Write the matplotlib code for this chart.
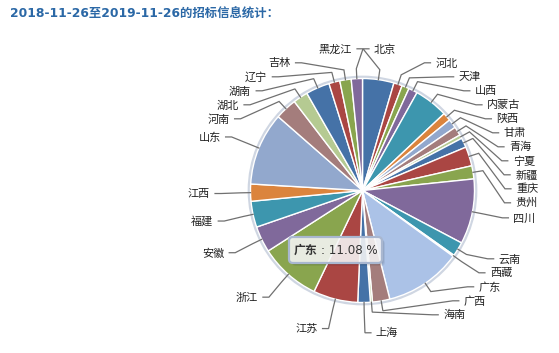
import numpy as np
import matplotlib
matplotlib.use('Agg')
import matplotlib.pyplot as plt
from matplotlib.patches import FancyBboxPatch, Circle
from matplotlib.colors import to_rgb

# ---------------- data ----------------
provinces = ['北京', '河北', '天津', '山西', '内蒙古', '陕西', '甘肃', '青海', '宁夏', '新疆',
             '重庆', '贵州', '四川', '云南', '西藏', '广东', '广西', '海南', '上海', '江苏',
             '浙江', '安徽', '福建', '江西', '山东', '河南', '湖北', '湖南', '辽宁', '吉林', '黑龙江']
shares = [4.53, 1.22, 1.06, 1.28, 4.89, 1.19, 1.31, 1.28, 0.53, 1.39,
          2.78, 1.89, 9.40, 2.06, 0.19, 11.08, 2.50, 0.30, 1.80, 6.44,
          8.81, 3.78, 3.75, 2.47, 10.52, 3.14, 2.14, 3.44, 1.58, 1.64, 1.61]
palette = ['#4572A7', '#AA4643', '#89A54E', '#80699B', '#3D96AE',
           '#DB843D', '#92A8CD', '#A47D7C', '#B5CA92']
title_text = '2018-11-26至2019-11-26的招标信息统计：'
hover_name = '广东'

# ---------------- layout ----------------
W, H = 559, 353
CX, CY, R = 362.5, 190.5, 112          # pie centre / radius (pixels)
LCX, LCY, LR = 363.0, 191.3, 142.0     # label circle
LH = 14                                 # label slot height
GAP, TICK, BREAK = 11, 6, 10
CJK = ['Noto Sans CJK SC', 'DejaVu Sans']
LAT = ['DejaVu Sans', 'Noto Sans CJK SC']

fig = plt.figure(figsize=(W / 100, H / 100), dpi=100)
ax = fig.add_axes([0, 0, 1, 1])

colors = [palette[i % len(palette)] for i in range(len(shares))]
hi = provinces.index(hover_name)
colors[hi] = tuple(min(1.0, c + 0.1) for c in to_rgb(colors[hi]))

ax.add_patch(Circle((CX, CY), R + 1.2, facecolor='none', edgecolor='#cfd6e2',
                    lw=2.4, zorder=0))
ax.pie(shares, colors=colors, startangle=270, counterclock=True,
       center=(CX, CY), radius=R,
       wedgeprops=dict(edgecolor='white', linewidth=1.0))
ax.set_xlim(0, W)
ax.set_ylim(H, 0)
ax.set_aspect('equal')
ax.axis('off')

# ---------------- labels with anti-collision slots ----------------
vals = np.asarray(shares, float)
frac = vals / vals.sum()
mid = (np.cumsum(frac) - frac / 2) * 2 * np.pi     # clockwise from top
nat_y = LCY - LR * np.cos(mid)
slots = LCY - LR + LH * np.arange(int(2 * LR // LH) + 1)
n = len(vals)
right = sorted([k for k in range(n) if mid[k] < np.pi], key=lambda k: mid[k])
left = sorted([k for k in range(n) if mid[k] >= np.pi], key=lambda k: -mid[k])


def place(order):
    S, m = len(slots), len(order)
    taken = np.zeros(S, bool)
    used = []
    for j, k in enumerate(order):
        cands = [s for s in range(j, S - m + j + 1) if not taken[s]]
        s = min(cands, key=lambda s: abs(slots[s] - nat_y[k]))
        taken[s] = True
        used.append(s)
    used.sort()
    res = {}
    for j, k in enumerate(order):
        s = used[j]
        y = slots[s]
        ny = nat_y[k]
        free_below = s + 1 >= S or not taken[s + 1]
        free_above = s - 1 < 0 or not taken[s - 1]
        if (ny > y and free_below) or (ny < y and free_above):
            y = ny
        res[k] = y
    return res


for order, side in ((right, 1), (left, -1)):
    ys = place(order)
    for k in order:
        y = ys[k]
        sq = np.sqrt(max(LR ** 2 - (y - LCY) ** 2, 0.0))
        anchor = LCX + side * sq
        ux, uy = np.sin(mid[k]), -np.cos(mid[k])
        px = [anchor + side * TICK, anchor, CX + (R + BREAK) * ux, CX + R * ux]
        py = [y - 0.5, y - 0.5, CY + (R + BREAK) * uy, CY + R * uy]
        ax.plot(px, py, color='#707070', lw=0.9, zorder=3, solid_joinstyle='miter')
        ax.text(anchor + side * GAP, y, provinces[k], ha='left' if side > 0 else 'right',
                va='center', fontsize=8, color='#222222', family=CJK, zorder=4)

# ---------------- title ----------------
ax.text(10, 14, title_text, ha='left', va='center', fontsize=8.9, fontweight='bold',
        color='#2b68a6', family=LAT)

# ---------------- tooltip ----------------
tx, ty, tw, th = 289, 237, 93, 26
for d, a in ((3, 0.06), (2, 0.08), (1, 0.10)):
    ax.add_patch(FancyBboxPatch((tx + d, ty + d), tw, th,
                                boxstyle='round,pad=0,rounding_size=4',
                                fc='black', ec='none', alpha=a, zorder=5))
ax.add_patch(FancyBboxPatch((tx, ty), tw, th, boxstyle='round,pad=0,rounding_size=4',
                            fc=(1, 1, 1, 0.85), ec='#a9b7d0', lw=1.6, zorder=6))
ax.text(tx + 5, ty + th / 2, hover_name, ha='left', va='center', fontsize=8.6,
        fontweight='bold', color='#333333', family=CJK, zorder=7)
ax.text(tx + 32, ty + th / 2, f': {frac[hi] * 100:.2f} %', ha='left', va='center',
        fontsize=8.6, color='#333333', family=LAT, zorder=7)

fig.savefig('out.png', dpi=100)
